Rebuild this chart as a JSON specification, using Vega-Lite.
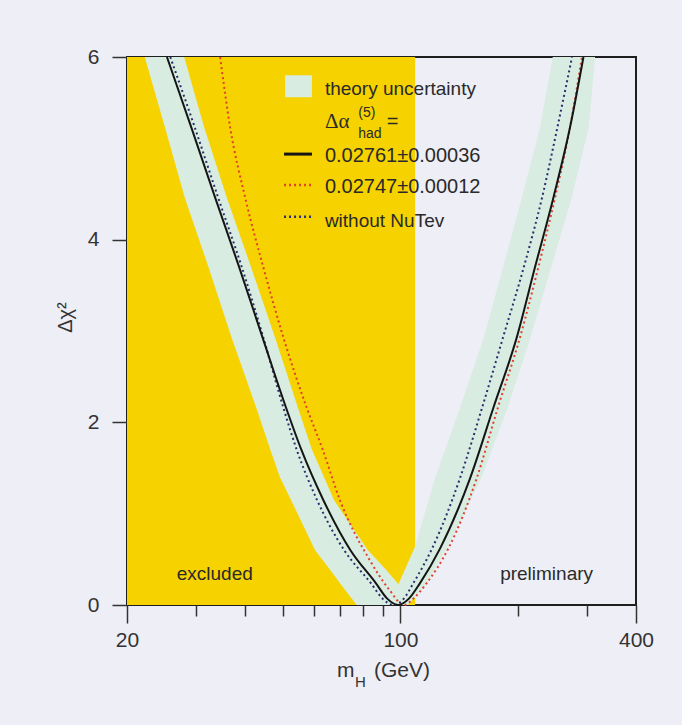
{
  "$schema": "https://vega.github.io/schema/vega-lite/v6.json",
  "width": 509,
  "height": 548,
  "autosize": "none",
  "padding": {"left": 127, "top": 57, "right": 46, "bottom": 120},
  "background": "#EEEEF6",
  "config": {"view": {"stroke": "#1e1e1e", "strokeWidth": 2}, "font": "Liberation Sans"},
  "datasets": {
    "excl": [{"m0": 20, "m1": 109, "c0": 0, "c1": 6}],
    "band": [
      {"side": "L", "c": 0, "lo": 77.3, "hi": 99.3},
      {"side": "L", "c": 0.22, "lo": 70.6, "hi": 99.3},
      {"side": "L", "c": 0.4, "lo": 65.7, "hi": 91.3},
      {"side": "L", "c": 0.6, "lo": 60.5, "hi": 82.6},
      {"side": "L", "c": 1.15, "lo": 52.5, "hi": 67.6},
      {"side": "L", "c": 1.4, "lo": 49.2, "hi": 63.8},
      {"side": "L", "c": 1.7, "lo": 46.5, "hi": 59.4},
      {"side": "L", "c": 2.16, "lo": 42.8, "hi": 54.7},
      {"side": "L", "c": 2.93, "lo": 37.0, "hi": 47.8},
      {"side": "L", "c": 3.7, "lo": 32.3, "hi": 41.5},
      {"side": "L", "c": 4.46, "lo": 28.1, "hi": 36.0},
      {"side": "L", "c": 5.23, "lo": 25.0, "hi": 31.5},
      {"side": "L", "c": 6, "lo": 22.2, "hi": 28.0},
      {"side": "R", "c": 0, "lo": 98.6, "hi": 104.5},
      {"side": "R", "c": 0.22, "lo": 98.6, "hi": 116.0},
      {"side": "R", "c": 0.64, "lo": 109.0, "hi": 132.0},
      {"side": "R", "c": 1.39, "lo": 122.6, "hi": 161.0},
      {"side": "R", "c": 2.16, "lo": 142.0, "hi": 188.0},
      {"side": "R", "c": 2.93, "lo": 163.4, "hi": 215.0},
      {"side": "R", "c": 3.7, "lo": 183.0, "hi": 243.0},
      {"side": "R", "c": 4.46, "lo": 204.3, "hi": 274.0},
      {"side": "R", "c": 5.23, "lo": 227.4, "hi": 303.0},
      {"side": "R", "c": 6, "lo": 245.0, "hi": 314.4}
    ],
    "curves": [
      {"s": "black", "m": 25.3, "c": 6.0},
      {"s": "black", "m": 29.2, "c": 5.23},
      {"s": "black", "m": 33.6, "c": 4.46},
      {"s": "black", "m": 38.7, "c": 3.7},
      {"s": "black", "m": 44.4, "c": 2.93},
      {"s": "black", "m": 51.0, "c": 2.16},
      {"s": "black", "m": 55.8, "c": 1.7},
      {"s": "black", "m": 63.5, "c": 1.15},
      {"s": "black", "m": 74.5, "c": 0.6},
      {"s": "black", "m": 86.5, "c": 0.24},
      {"s": "black", "m": 92.5, "c": 0.07},
      {"s": "black", "m": 98.6, "c": 0},
      {"s": "black", "m": 105.1, "c": 0.07},
      {"s": "black", "m": 112.2, "c": 0.24},
      {"s": "black", "m": 126.3, "c": 0.62},
      {"s": "black", "m": 150.7, "c": 1.39},
      {"s": "black", "m": 172.8, "c": 2.16},
      {"s": "black", "m": 198.3, "c": 2.93},
      {"s": "black", "m": 220.8, "c": 3.7},
      {"s": "black", "m": 246.0, "c": 4.46},
      {"s": "black", "m": 271.3, "c": 5.23},
      {"s": "black", "m": 293.6, "c": 6.0},
      {"s": "red", "m": 34.6, "c": 6.0},
      {"s": "red", "m": 36.7, "c": 5.23},
      {"s": "red", "m": 40.1, "c": 4.46},
      {"s": "red", "m": 44.6, "c": 3.7},
      {"s": "red", "m": 50.2, "c": 2.93},
      {"s": "red", "m": 57.6, "c": 2.16},
      {"s": "red", "m": 63.3, "c": 1.7},
      {"s": "red", "m": 70.0, "c": 1.15},
      {"s": "red", "m": 83.5, "c": 0.49},
      {"s": "red", "m": 93.9, "c": 0.16},
      {"s": "red", "m": 102.0, "c": 0},
      {"s": "red", "m": 108.5, "c": 0.08},
      {"s": "red", "m": 116.7, "c": 0.24},
      {"s": "red", "m": 132.6, "c": 0.62},
      {"s": "red", "m": 156.7, "c": 1.39},
      {"s": "red", "m": 177.4, "c": 2.16},
      {"s": "red", "m": 202.1, "c": 2.93},
      {"s": "red", "m": 225.2, "c": 3.7},
      {"s": "red", "m": 248.4, "c": 4.46},
      {"s": "red", "m": 271.3, "c": 5.23},
      {"s": "red", "m": 291.0, "c": 6.0},
      {"s": "blue", "m": 25.8, "c": 6.0},
      {"s": "blue", "m": 29.8, "c": 5.23},
      {"s": "blue", "m": 34.2, "c": 4.46},
      {"s": "blue", "m": 39.3, "c": 3.7},
      {"s": "blue", "m": 44.6, "c": 2.93},
      {"s": "blue", "m": 50.2, "c": 2.16},
      {"s": "blue", "m": 54.3, "c": 1.7},
      {"s": "blue", "m": 61.2, "c": 1.15},
      {"s": "blue", "m": 71.8, "c": 0.6},
      {"s": "blue", "m": 84.0, "c": 0.24},
      {"s": "blue", "m": 90.0, "c": 0.07},
      {"s": "blue", "m": 96.2, "c": 0},
      {"s": "blue", "m": 102.0, "c": 0.07},
      {"s": "blue", "m": 107.9, "c": 0.24},
      {"s": "blue", "m": 120.5, "c": 0.62},
      {"s": "blue", "m": 142.0, "c": 1.39},
      {"s": "blue", "m": 161.7, "c": 2.16},
      {"s": "blue", "m": 182.9, "c": 2.93},
      {"s": "blue", "m": 206.7, "c": 3.7},
      {"s": "blue", "m": 230.1, "c": 4.46},
      {"s": "blue", "m": 251.9, "c": 5.23},
      {"s": "blue", "m": 274.5, "c": 6.0}
    ],
    "key": [{"m0": 50.7, "m1": 59.4, "c0": 5.56, "c1": 5.8}],
    "keylines": [
      {"s": "black", "m0": 50.4, "m1": 59.4, "c": 4.937},
      {"s": "red", "m0": 50.4, "m1": 59.4, "c": 4.599},
      {"s": "blue", "m0": 50.4, "m1": 59.4, "c": 4.252}
    ],
    "labels": [
      {"g": "a", "t": "theory uncertainty", "m": 64.1, "c": 5.584},
      {"g": "b", "t": "0.02761±0.00036", "m": 64.1, "c": 4.851},
      {"g": "b", "t": "0.02747±0.00012", "m": 64.1, "c": 4.511},
      {"g": "a", "t": "without NuTev", "m": 64.1, "c": 4.139},
      {"g": "a", "t": "excluded", "m": 26.8, "c": 0.274},
      {"g": "a", "t": "preliminary", "m": 179.8, "c": 0.274},
      {"g": "greek", "t": "Δα", "m": 64.1, "c": 5.223},
      {"g": "small", "t": "(5)", "m": 78.0, "c": 5.343},
      {"g": "small", "t": "had", "m": 78.0, "c": 5.113},
      {"g": "eq", "t": "=", "m": 92.2, "c": 5.223},
      {"g": "title", "t": "m", "m": 68.8, "c": -0.79},
      {"g": "sub", "t": "H", "m": 76.5, "c": -0.9},
      {"g": "title", "t": "(GeV)", "m": 85.6, "c": -0.79}
    ]
  },
  "layer": [
    {
      "data": {"name": "excl"},
      "mark": {"type": "rect", "color": "#F6D200"},
      "encoding": {
        "x": {
          "field": "m0", "type": "quantitative",
          "scale": {"type": "log", "domain": [20, 400], "nice": false},
          "axis": {
            "values": [20, 30, 40, 50, 60, 70, 80, 90, 100, 200, 300, 400],
            "labelExpr": "indexof([20,100,400], datum.value) >= 0 ? format(datum.value, 'd') : ''",
            "tickSize": {"condition": {"test": "indexof([20,100,400], datum.value) >= 0", "value": 18}, "value": 11},
            "tickColor": "#333333", "tickWidth": 1.5, "domain": false, "grid": false,
            "labelFontSize": 21, "labelColor": "#333333", "labelPadding": 6,
            "labelFlush": false, "labelOverlap": false, "title": null
          }
        },
        "x2": {"field": "m1"},
        "y": {
          "field": "c0", "type": "quantitative",
          "scale": {"domain": [0, 6], "nice": false},
          "axis": {
            "values": [0, 2, 4, 6], "format": "d", "tickSize": 15, "tickColor": "#333333", "tickWidth": 1.5,
            "domain": false, "grid": false, "labelFontSize": 21, "labelColor": "#333333",
            "labelPadding": 13, "title": "Δχ²", "titleFontSize": 20, "titleFontWeight": "normal",
            "titleColor": "#333333", "titlePadding": 12, "titleY": 260
          }
        },
        "y2": {"field": "c1"}
      }
    },
    {
      "data": {"name": "band"},
      "mark": {"type": "area", "orient": "horizontal", "color": "#D8ECE1", "opacity": 1},
      "encoding": {
        "y": {"field": "c", "type": "quantitative"},
        "x": {"field": "lo", "type": "quantitative", "title": null},
        "x2": {"field": "hi"},
        "detail": {"field": "side"}
      }
    },
    {
      "data": {"name": "curves"},
      "transform": [{"filter": "datum.s != 'black'"}],
      "mark": {"type": "line", "strokeWidth": 2, "strokeDash": [2, 3], "interpolate": "monotone"},
      "encoding": {
        "x": {"field": "m", "type": "quantitative", "title": null},
        "y": {"field": "c", "type": "quantitative"},
        "color": {"field": "s", "type": "nominal", "scale": {"domain": ["red", "blue"], "range": ["#E2402C", "#2A2E6E"]}, "legend": null}
      }
    },
    {
      "data": {"name": "curves"},
      "transform": [{"filter": "datum.s == 'black'"}],
      "mark": {"type": "line", "strokeWidth": 2, "color": "#151515", "interpolate": "monotone"},
      "encoding": {
        "x": {"field": "m", "type": "quantitative", "title": null},
        "y": {"field": "c", "type": "quantitative"}
      }
    },
    {
      "data": {"name": "key"},
      "mark": {"type": "rect", "color": "#D8ECE1"},
      "encoding": {
        "x": {"field": "m0", "type": "quantitative", "title": null},
        "x2": {"field": "m1"},
        "y": {"field": "c0", "type": "quantitative"},
        "y2": {"field": "c1"}
      }
    },
    {
      "data": {"name": "keylines"},
      "transform": [{"filter": "datum.s == 'black'"}],
      "mark": {"type": "rule", "strokeWidth": 3, "color": "#151515"},
      "encoding": {
        "x": {"field": "m0", "type": "quantitative", "title": null},
        "x2": {"field": "m1"},
        "y": {"field": "c", "type": "quantitative"}
      }
    },
    {
      "data": {"name": "keylines"},
      "transform": [{"filter": "datum.s != 'black'"}],
      "mark": {"type": "rule", "strokeWidth": 2.5, "strokeDash": [2, 3]},
      "encoding": {
        "x": {"field": "m0", "type": "quantitative", "title": null},
        "x2": {"field": "m1"},
        "y": {"field": "c", "type": "quantitative"},
        "color": {"field": "s", "type": "nominal", "scale": {"domain": ["red", "blue"], "range": ["#E2402C", "#2A2E6E"]}, "legend": null}
      }
    },
    {
      "data": {"name": "labels"},
      "encoding": {
        "x": {"field": "m", "type": "quantitative", "title": null},
        "y": {"field": "c", "type": "quantitative"},
        "text": {"field": "t"}
      },
      "layer": [
        {"transform": [{"filter": "datum.g == 'a'"}], "mark": {"type": "text", "align": "left", "baseline": "alphabetic", "fontSize": 19, "color": "#2a2a2a"}},
        {"transform": [{"filter": "datum.g == 'b'"}], "mark": {"type": "text", "align": "left", "baseline": "alphabetic", "fontSize": 20, "color": "#2a2a2a"}},
        {"transform": [{"filter": "datum.g == 'greek'"}], "mark": {"type": "text", "align": "left", "baseline": "alphabetic", "fontSize": 21, "font": "Liberation Serif", "color": "#2a2a2a"}},
        {"transform": [{"filter": "datum.g == 'small'"}], "mark": {"type": "text", "align": "left", "baseline": "alphabetic", "fontSize": 14, "color": "#2a2a2a"}},
        {"transform": [{"filter": "datum.g == 'eq'"}], "mark": {"type": "text", "align": "left", "baseline": "alphabetic", "fontSize": 20, "color": "#2a2a2a"}},
        {"transform": [{"filter": "datum.g == 'title'"}], "mark": {"type": "text", "align": "left", "baseline": "alphabetic", "fontSize": 21, "color": "#333333"}},
        {"transform": [{"filter": "datum.g == 'sub'"}], "mark": {"type": "text", "align": "left", "baseline": "alphabetic", "fontSize": 15, "color": "#333333"}}
      ]
    }
  ]
}
